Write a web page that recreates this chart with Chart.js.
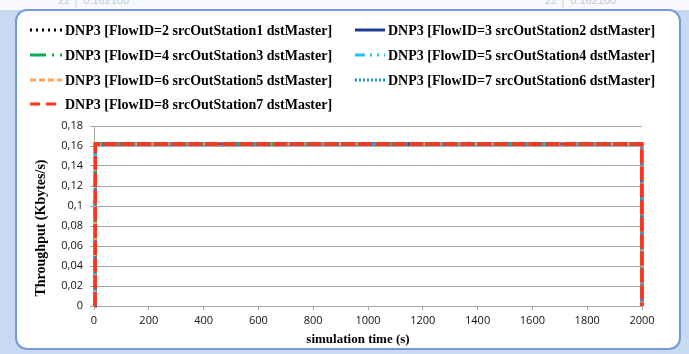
<!DOCTYPE html>
<html>
<head>
<meta charset="utf-8">
<script src="https://cdn.jsdelivr.net/npm/chart.js@4/dist/chart.umd.min.js"></script>
<style>
  html, body { margin: 0; padding: 0; }
  body { width: 689px; height: 354px; overflow: hidden; position: relative; background: #c8daf2; }
  #sheet { position: absolute; left: 0; top: 0; width: 689px; height: 10px; background: #f7f9fc; overflow: hidden; }
  .cell { position: absolute; top: -6px; font: 11px "Liberation Sans", sans-serif; color: #c3cad6; white-space: nowrap; }
  #panel { position: absolute; left: 15px; top: 9px; width: 662px; height: 337px;
           border: 2px solid #7399d9; border-radius: 12px; background: #ffffff; }
  #chart { position: absolute; left: 0; top: 0; }
</style>
</head>
<body>
<div id="sheet">
  <span class="cell" style="left:58px">22 │ 0.162100</span>
  <span class="cell" style="left:545px">22 │ 0.162100</span>
</div>
<div id="panel"></div>
<canvas id="chart" width="689" height="354"></canvas>
<script>
// Simulation time samples (s)
const simTime = [4, 5, 1999, 2000];

// Throughput per flow (Kbytes/s)
const flow2 = [0, 0.1621, 0.1621, 0];
const flow3 = [0, 0.1621, 0.1621, 0];
const flow4 = [0, 0.1621, 0.1621, 0];
const flow5 = [0, 0.1621, 0.1621, 0];
const flow6 = [0, 0.1621, 0.1621, 0];
const flow7 = [0, 0.1621, 0.1621, 0];
const flow8 = [0, 0.1621, 0.1621, 0];

const seriesNames = [
  'DNP3 [FlowID=2 srcOutStation1 dstMaster]',
  'DNP3 [FlowID=3 srcOutStation2 dstMaster]',
  'DNP3 [FlowID=4 srcOutStation3 dstMaster]',
  'DNP3 [FlowID=5 srcOutStation4 dstMaster]',
  'DNP3 [FlowID=6 srcOutStation5 dstMaster]',
  'DNP3 [FlowID=7 srcOutStation6 dstMaster]',
  'DNP3 [FlowID=8 srcOutStation7 dstMaster]'
];
const seriesValues = [flow2, flow3, flow4, flow5, flow6, flow7, flow8];

const yTickLabels = ['0', '0,02', '0,04', '0,06', '0,08', '0,1', '0,12', '0,14', '0,16', '0,18'];
const xTickLabels = ['0', '200', '400', '600', '800', '1000', '1200', '1400', '1600', '1800', '2000'];

const xTitle = 'simulation time (s)';
const yTitle = 'Throughput (Kbytes/s)';

// Line styles for each flow
const styles = [
  { color: '#000000', dash: [2, 4], legendDash: [2, 4] },
  { color: '#1f3a93', dash: [], legendDash: [] },
  { color: '#00b050', dash: [16, 6, 2, 6], legendDash: [16, 6, 2, 6] },
  { color: '#22c3ef', dash: [10, 5, 2, 5, 2, 5], legendDash: [10, 5, 2, 5, 2, 5] },
  { color: '#fba55c', dash: [6, 3], legendDash: [6, 3] },
  { color: '#1a8fd6', dash: [2, 2], legendDash: [2, 2] },
  { color: '#ff3319', dash: [14, 3], legendDash: [10, 6] }
];

const datasets = seriesNames.map((name, i) => ({
  label: name,
  data: simTime.map((t, k) => ({ x: t, y: seriesValues[i][k] })),
  borderColor: styles[i].color,
  backgroundColor: styles[i].color,
  borderDash: styles[i].dash,
  legendDash: styles[i].legendDash,
  borderWidth: i === 6 ? 3.5 : 3,
  pointRadius: 0,
  tension: 0,
  fill: false,
  clip: false,
  order: seriesNames.length - i
}));

// Two-column legend above the plot plus the axis titles
const frameText = {
  id: 'frameText',
  afterDraw(chart) {
    const ctx = chart.ctx;
    ctx.save();
    const rows = [35, 60, 85, 109];
    chart.data.datasets.forEach((ds, i) => {
      const col = i % 2;
      const row = Math.floor(i / 2);
      const x0 = col ? 355 : 30;
      const x1 = col ? 385 : 62;
      const tx = col ? 388 : 65;
      const base = rows[row];
      ctx.beginPath();
      ctx.setLineDash(ds.legendDash);
      ctx.strokeStyle = ds.borderColor;
      ctx.lineWidth = 3;
      ctx.moveTo(x0, base - 5);
      ctx.lineTo(x1, base - 5);
      ctx.stroke();
      ctx.setLineDash([]);
      ctx.fillStyle = '#000';
      ctx.font = 'bold 14px "Liberation Serif", serif';
      ctx.textAlign = 'left';
      ctx.textBaseline = 'alphabetic';
      ctx.fillText(ds.label, tx, base);
    });

    ctx.fillStyle = '#000';
    ctx.font = 'bold 13px "Liberation Serif", serif';
    ctx.textAlign = 'center';
    ctx.textBaseline = 'alphabetic';
    ctx.fillText(xTitle, 358, 343);

    ctx.translate(45, 228);
    ctx.rotate(-Math.PI / 2);
    ctx.font = 'bold 14px "Liberation Serif", serif';
    ctx.fillText(yTitle, 0, 0);
    ctx.restore();
  }
};

new Chart(document.getElementById('chart'), {
  type: 'line',
  data: { datasets },
  plugins: [frameText],
  options: {
    responsive: false,
    animation: false,
    devicePixelRatio: 1,
    layout: { padding: { top: 126, right: 47, bottom: 0, left: 0 } },
    plugins: { legend: { display: false }, tooltip: { enabled: false } },
    scales: {
      x: {
        type: 'linear',
        min: 0,
        max: 2000,
        afterFit(scale) { scale.height = 48; },
        ticks: {
          stepSize: 200,
          padding: 4,
          color: '#111',
          font: { family: 'Open Sans', size: 11, weight: '500' },
          maxRotation: 0,
          callback: (v, i) => xTickLabels[i]
        },
        grid: { drawOnChartArea: false, drawTicks: true, tickLength: 4, color: '#a6a6a6' },
        border: { display: true, color: '#a6a6a6', width: 1 }
      },
      y: {
        min: 0,
        max: 0.18,
        afterFit(scale) { scale.width = 94; },
        ticks: {
          stepSize: 0.02,
          padding: 7,
          color: '#111',
          font: { family: 'Open Sans', size: 11, weight: '500' },
          callback: (v, i) => yTickLabels[i]
        },
        grid: { color: '#a6a6a6', lineWidth: 1, tickLength: 4 },
        border: { display: true, color: '#a6a6a6', width: 1 }
      }
    }
  }
});
</script>
</body>
</html>
